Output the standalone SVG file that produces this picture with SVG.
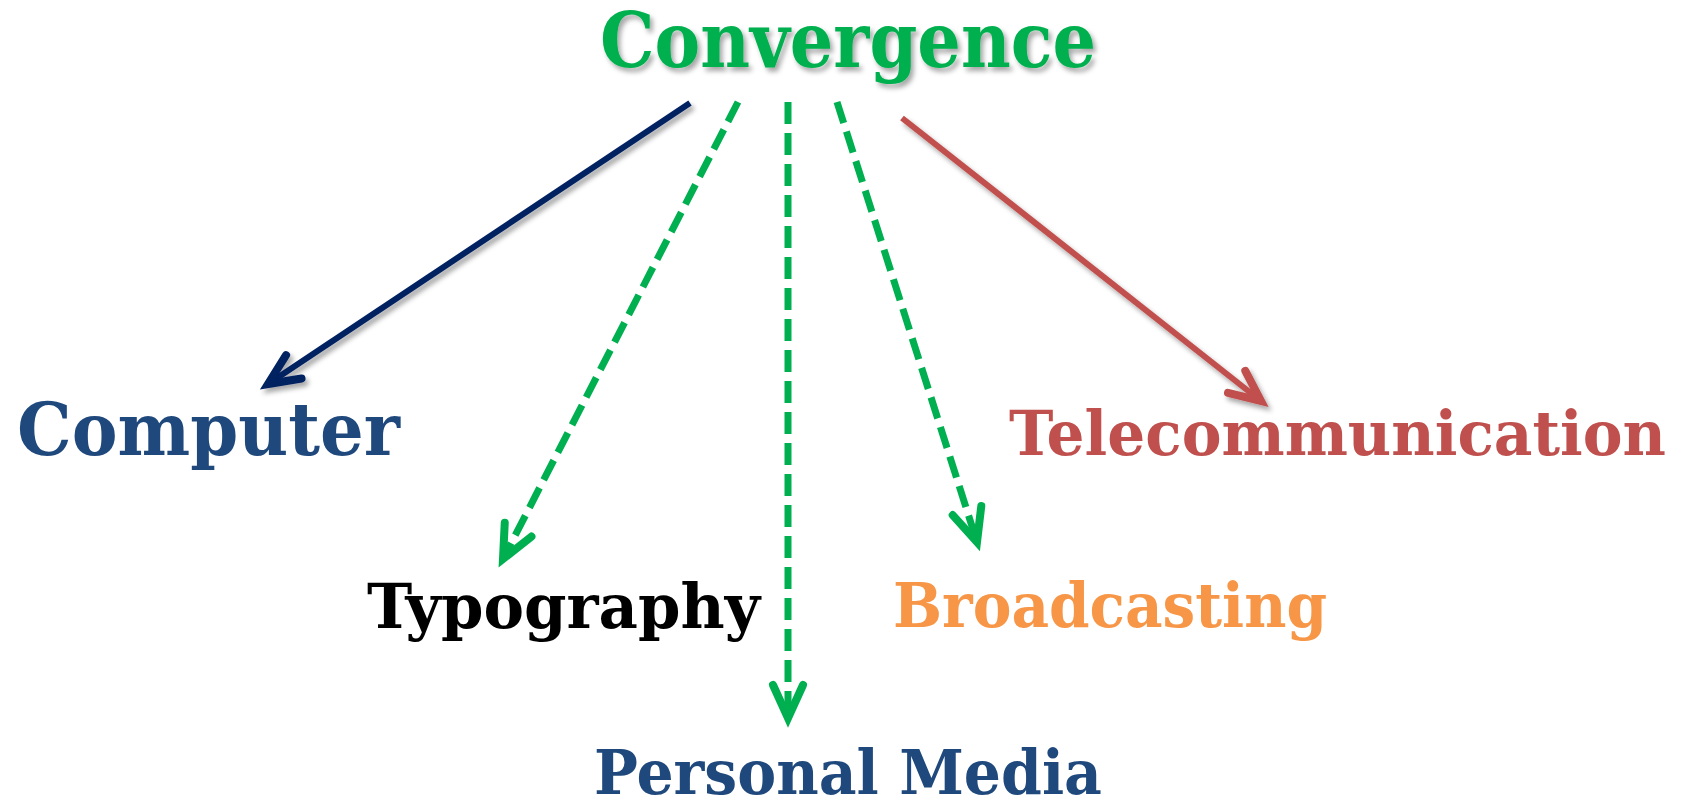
<svg xmlns="http://www.w3.org/2000/svg" width="1683" height="799" viewBox="0 0 1683 799">
<style>
  text { font-family: "DejaVu Serif", "Liberation Serif", Georgia, serif; font-weight: bold; }
  .conn { fill: none; stroke-linecap: butt; }
  .dash { stroke: #00B050; stroke-width: 7; stroke-dasharray: 22 9; }
  .solid { stroke-width: 6; }
  .head { fill: none; stroke-width: 8; stroke-linecap: round; stroke-linejoin: miter; stroke-dasharray: none; }
</style>
<defs>
  <filter id="shadow" x="-10%" y="-10%" width="130%" height="140%">
    <feDropShadow dx="3" dy="4" stdDeviation="2.5" flood-color="#000" flood-opacity="0.35"/>
  </filter>
  <marker id="headNavy" markerUnits="userSpaceOnUse" orient="auto" refX="0" refY="0" overflow="visible">
    <path class="head" d="M -31,-14 L 0,0 L -31,14" stroke="#002060"/>
  </marker>
  <marker id="headRed" markerUnits="userSpaceOnUse" orient="auto" refX="0" refY="0" overflow="visible">
    <path class="head" d="M -31,-14 L 0,0 L -31,14" stroke="#C0504D"/>
  </marker>
  <marker id="headGreen" markerUnits="userSpaceOnUse" orient="auto" refX="0" refY="0" overflow="visible">
    <path class="head" d="M -33,-15 L 0,0 L -33,15" stroke="#00B050"/>
  </marker>
</defs>

<g id="connectors">
  <line class="conn solid" x1="690" y1="103" x2="268" y2="384" stroke="#002060" marker-end="url(#headNavy)" filter="url(#shadow)"/>
  <line class="conn dash" x1="738" y1="102" x2="503" y2="559" marker-end="url(#headGreen)"/>
  <line class="conn dash" x1="788" y1="102" x2="788" y2="718" marker-end="url(#headGreen)"/>
  <line class="conn dash" x1="837" y1="102" x2="977" y2="542" marker-end="url(#headGreen)"/>
  <line class="conn solid" x1="902" y1="118" x2="1261" y2="401" stroke="#C0504D" marker-end="url(#headRed)" filter="url(#shadow)"/>
</g>

<g id="convergence">
  <text x="600" y="67" font-size="77" fill="#00B050" textLength="496" lengthAdjust="spacingAndGlyphs" filter="url(#shadow)">Convergence</text>
</g>
<g id="computer">
  <text x="17" y="455" font-size="73" fill="#1F497D" textLength="383" lengthAdjust="spacingAndGlyphs">Computer</text>
</g>
<g id="telecommunication">
  <text x="1009" y="455" font-size="62" fill="#C0504D" textLength="657" lengthAdjust="spacingAndGlyphs">Telecommunication</text>
</g>
<g id="typography">
  <text x="367" y="628" font-size="62" fill="#000000" textLength="393" lengthAdjust="spacingAndGlyphs">Typography</text>
</g>
<g id="broadcasting">
  <text x="893" y="627" font-size="62" fill="#F79646" textLength="434" lengthAdjust="spacingAndGlyphs">Broadcasting</text>
</g>
<g id="personal-media">
  <text x="594" y="794" font-size="62" fill="#1F497D" textLength="508" lengthAdjust="spacingAndGlyphs">Personal Media</text>
</g>
</svg>
